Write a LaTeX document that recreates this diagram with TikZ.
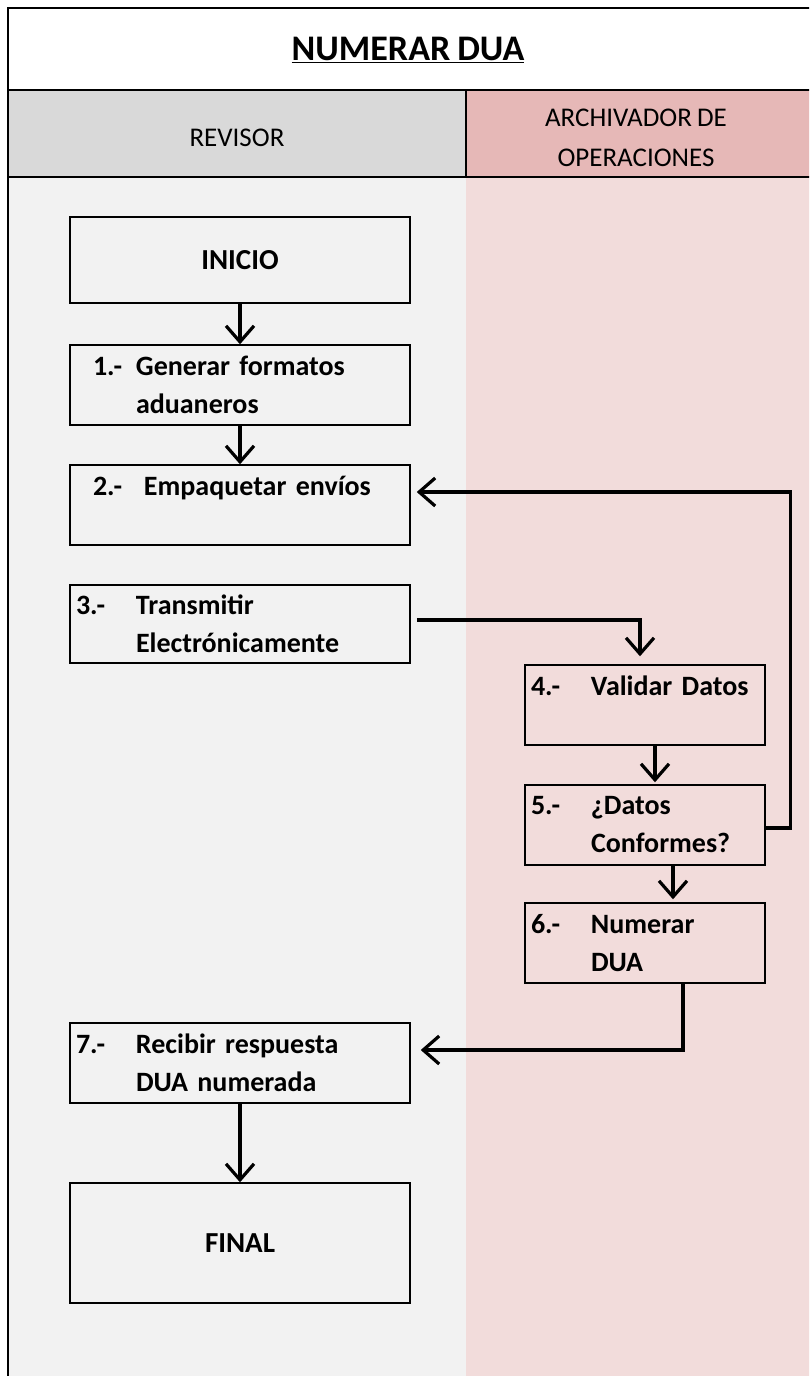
\documentclass[tikz,border=0pt]{standalone}
\usepackage{fontspec}
\setmainfont{Carlito}[WordSpace=0.85]
\usetikzlibrary{arrows.meta, calc, positioning}
\definecolor{hdrgray}{HTML}{D9D9D9}
\definecolor{hdrpink}{HTML}{E6B8B7}
\definecolor{lanegray}{HTML}{F2F2F2}
\definecolor{lanepink}{HTML}{F2DCDB}
\newcommand{\stepnum}[4][0pt]{\hspace*{#1}\makebox[\dimexpr60pt-#1\relax][l]{#2}#3\\\hspace*{60pt}#4}

\begin{document}
\begin{tikzpicture}[
    x=1pt, y=-1pt,
    >={Straight Barb[length=16pt, width=28pt, line width=3.2pt]},
    every node/.style={font=\fontsize{28}{38}\selectfont},
    stepbox/.style={draw, line width=1.5pt, align=left, text width=328pt,
                    inner xsep=6pt, minimum height=80pt, font=\fontsize{28}{38}\selectfont\bfseries},
    narrow/.style={stepbox, text width=228pt},
    endbox/.style={draw, line width=1.5pt, align=center, minimum width=340pt,
                   font=\fontsize{29}{38}\selectfont\bfseries},
    flow/.style={->, line width=3.2pt},
    lane/.style={font=\fontsize{27}{40}\selectfont, align=center},
]
\useasboundingbox (0,0) rectangle (809,1376);
\clip (0,0) rectangle (809,1376);
% lanes and header
\fill[lanegray] (8,177) rectangle (466,1380);
\fill[lanepink] (466,177) rectangle (812,1380);
\fill[hdrgray] (8,90) rectangle (466,177);
\fill[hdrpink] (466,90) rectangle (812,177);
\draw[line width=1.8pt] (8,1380) -- (8,8) -- (812,8);
\draw[line width=1.8pt] (8,90) -- (812,90);
\draw[line width=1.8pt] (8,177) -- (812,177);
\draw[line width=1.8pt] (466,90) -- (466,177);
\node[font=\fontsize{36}{40}\selectfont\bfseries] (title) at (408,50) {\underline{NUMERAR DUA}};
\node[lane] (revisor) at (237,138) {REVISOR};
\node[lane] (archivador) at (636,138) {ARCHIVADOR DE\\OPERACIONES};

% steps
\node[endbox, minimum height=86pt] (inicio) at (240,260) {INICIO};
\node[stepbox] (s1) at (240,385) {\stepnum[17pt]{1.-}{Generar formatos}{aduaneros}};
\node[stepbox] (s2) at (240,505) {\stepnum[17pt]{2.-}{\hspace*{8pt}Empaquetar envíos}{}};
\node[stepbox, minimum height=78pt] (s3) at (240,624) {\stepnum{3.-}{Transmitir}{Electrónicamente}};
\node[narrow] (s4) at (645,705) {\stepnum{4.-}{Validar Datos}{}};
\node[narrow] (s5) at (645,825) {\stepnum{5.-}{¿Datos}{Conformes?}};
\node[narrow] (s6) at (645,943) {\stepnum{6.-}{Numerar}{DUA}};
\node[stepbox] (s7) at (240,1063) {\stepnum{7.-}{Recibir respuesta}{DUA numerada}};
\node[endbox, minimum height=120pt] (final) at (240,1243) {FINAL};

% connectors
\draw[flow] (inicio) -- (s1);
\draw[flow] (s1) -- (s2);
\draw[flow] ([xshift=6pt, yshift=4pt]s3.east) -| ([xshift=-5pt, yshift=8pt]s4.north);
\draw[flow] ([xshift=10pt]s4.south) -- ([xshift=10pt, yshift=2pt]s5.north);
\draw[flow] ([xshift=28pt]s5.south) -- ([xshift=28pt, yshift=3pt]s6.north);
% not conforming: back to packing
\draw[flow] ([yshift=-3pt]s5.east) -- ++(25,0) |- ([xshift=6pt, yshift=13pt]s2.east);
\draw[flow] ([xshift=38pt]s6.south) |- ([xshift=10pt, yshift=13pt]s7.east);
\draw[flow] (s7) -- (final);
\end{tikzpicture}
\end{document}
